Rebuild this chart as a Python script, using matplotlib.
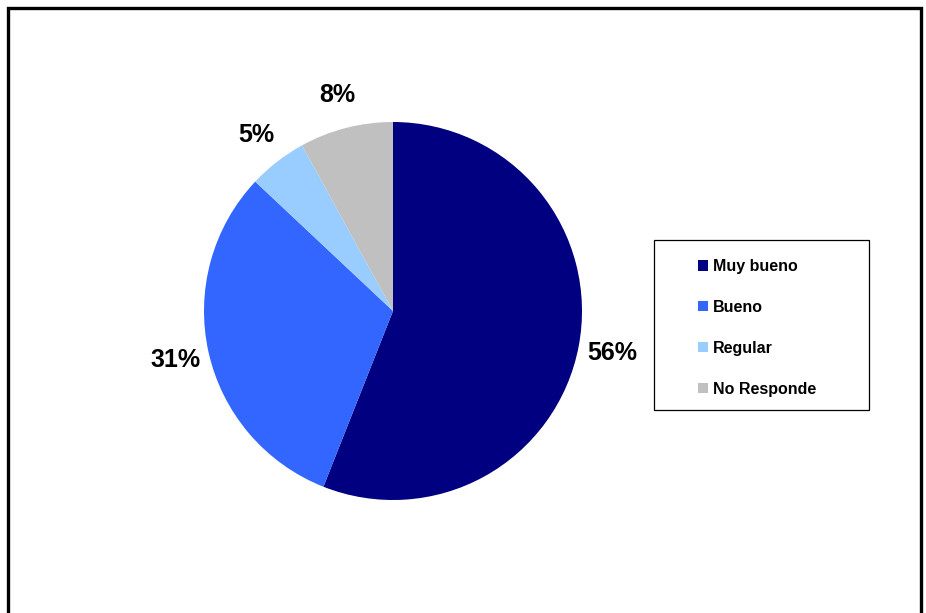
import matplotlib
matplotlib.use("Agg")
import matplotlib.pyplot as plt
from matplotlib.patches import Rectangle

matplotlib.rcParams['font.family'] = ['Liberation Sans', 'DejaVu Sans']

categories = ["Muy bueno", "Bueno", "Regular", "No Responde"]
values = [56, 31, 5, 8]
colors = ["#000080", "#3366FF", "#99CCFF", "#C0C0C0"]

W, H = 926, 613
fig = plt.figure(figsize=(W / 100, H / 100), dpi=100)

# outer frame (bottom edge runs off the image)
fig.patches.append(Rectangle((8 / W, -0.05), (921 - 8) / W, (613 - 8) / H + 0.05,
                             transform=fig.transFigure, fill=False,
                             edgecolor='black', linewidth=2.4, zorder=0))

# pie: centre (393, 311) px, radius 189 px
cx, cy, r = 393, 311, 189
ax = fig.add_axes([(cx - r) / W, 1 - (cy + r) / H, 2 * r / W, 2 * r / H])
wedges, texts, autotexts = ax.pie(values, colors=colors, startangle=90,
                                  counterclock=False, autopct='%1.0f%%',
                                  pctdistance=1.18,
                                  wedgeprops=dict(linewidth=0),
                                  textprops=dict(fontsize=18, fontweight='bold'))
ax.set_xlim(-1, 1)
ax.set_ylim(-1, 1)
ax.set_aspect('equal')

# legend box
fig.patches.append(Rectangle((654 / W, 1 - 410 / H), (869 - 654) / W, (410 - 240) / H,
                             transform=fig.transFigure, fill=False,
                             edgecolor='black', linewidth=0.9))
fig.legend(wedges, categories, loc='upper left',
           bbox_to_anchor=(698 / W, 1 - 259 / H), frameon=False,
           borderpad=0, borderaxespad=0,
           prop=dict(size=11.5, weight='bold'),
           handlelength=0.63, handleheight=0.63, handletextpad=0.31,
           labelspacing=1.62)

fig.savefig("out.png", dpi=100)
